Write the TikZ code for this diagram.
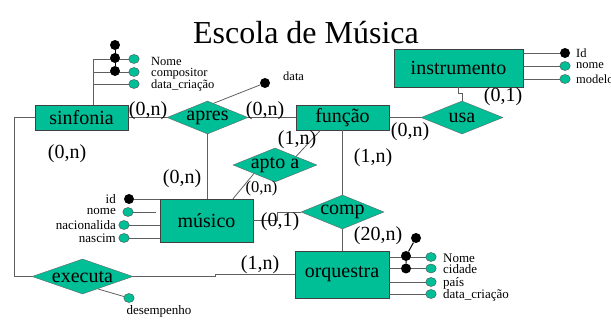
\documentclass[tikz,border=0pt]{standalone}
\usepackage{fontspec}
\setmainfont{Liberation Serif}
\usetikzlibrary{shapes.geometric,calc}

\definecolor{ergreen}{RGB}{0,190,150}
\definecolor{erline}{RGB}{95,95,95}

\tikzset{
  entity/.style={rectangle, draw=black!75, fill=ergreen, inner sep=0pt,
    font=\fontsize{20}{20}\selectfont},
  rel/.style={diamond, draw=black!60, fill=ergreen, inner sep=0pt,
    label={[font=\fontsize{20}{20}\selectfont]center:#1}},
  card/.style={inner sep=0pt, font=\fontsize{20}{20}\selectfont},
  smallcard/.style={inner sep=0pt, font=\fontsize{16.5}{16.5}\selectfont},
  attrname/.style={inner sep=0pt, font=\fontsize{12.5}{12.5}\selectfont},
  attrname2/.style={inner sep=0pt, font=\fontsize{13}{13}\selectfont},
  keydot/.style={circle, fill=black, inner sep=0pt, minimum size=10pt},
  attrdot/.style={ellipse, draw=black!70, fill=ergreen, inner sep=0pt,
    minimum width=10.5pt, minimum height=9pt},
  link/.style={draw=erline, line width=0.8pt}
}

\begin{document}
\begin{tikzpicture}[x=1pt, y=-1pt]
  \useasboundingbox (0,0) rectangle (611,328);

  % Title
  \node[anchor=base, inner sep=0pt, font=\fontsize{32}{32}\selectfont] (title) at (306,44) {Escola de Música};

  % Entities
  \node[entity, minimum width=93pt, minimum height=25pt] (sinfonia) at (81.5,117.5) {sinfonia};
  \node[entity, minimum width=93pt, minimum height=25pt] (funcao) at (342.5,117.5) {função};
  \node[entity, minimum width=129pt, minimum height=38pt] (instrumento) at (458.5,68) {instrumento};
  \node[entity, minimum width=93pt, minimum height=43pt] (musico) at (206.5,220.5) {músico};
  \node[entity, minimum width=94pt, minimum height=47pt] (orquestra) at (342,274.5) {orquestra};

  % Relationships
  \node[rel=apres, minimum width=81pt, minimum height=33pt] (apres) at (207.5,117.5) {};
  \node[rel=usa, minimum width=82pt, minimum height=33pt] (usa) at (462,117.5) {};
  \node[rel=apto a, minimum width=84pt, minimum height=34pt] (apto) at (275,165) {};
  \node[rel=comp, minimum width=83pt, minimum height=34pt] (comp) at (342.5,212) {};
  \node[rel=executa, minimum width=101pt, minimum height=35pt] (executa) at (82.5,276.5) {};

  % Connections
  \draw[link] (sinfonia) -- (apres);
  \draw[link] (apres) -- (funcao);
  \draw[link] (funcao) -- (usa);
  \draw[link] (instrumento.south) -- ++(0,6) -| (usa.north);
  \draw[link] (apres.south) -- (musico.north -| apres.south);
  \draw[link] ([xshift=-22pt]funcao.south) -- ($(apto.north)!0.5!(apto.east)$);
  \draw[link] ($(apto.south)!0.5!(apto.west)$) -- ([xshift=26.5pt]musico.north);
  \draw[link] (funcao.south) -- (comp.north);
  \draw[link] (comp.south) -- (orquestra.north -| comp.south);
  \draw[link] (musico.east) -- ++(24,0) |- (comp.west);
  \draw[link] (sinfonia.west) -- ++(-20,0) |- (executa.west);
  \draw[link] (executa.east) -- ++(82,0) |- (orquestra.west);

  % Cardinalities
  \node[card] (c1) at (148,111) {(0,n)};
  \node[card] (c2) at (265,111) {(0,n)};
  \node[card] (c3) at (67,154) {(0,n)};
  \node[card] (c4) at (182,179) {(0,n)};
  \node[card] (c5) at (297,140) {(1,n)};
  \node[smallcard] (c6) at (261.5,189) {(0,n)};
  \node[card] (c7) at (373,158) {(1,n)};
  \node[card] (c8) at (410,132) {(0,n)};
  \node[card] (c9) at (503,97) {(0,1)};
  \node[card] (c10) at (280,222) {(0,1)};
  \node[card] (c11) at (378,236) {(20,n)};
  \node[card] (c12) at (260,265) {(1,n)};

  % Attributes of sinfonia
  \coordinate (sstem) at ([xshift=11.5pt]sinfonia.north);
  \node[attrdot] (snome) at (134,59) {};
  \node[attrdot] (scomp) at (134,72) {};
  \node[attrdot] (sdata) at (134,84) {};
  \draw[link] (sstem) |- (snome);
  \draw[link] (sstem |- scomp) -- (scomp);
  \draw[link] (sstem |- sdata) -- (sdata);
  \node[keydot] (sk0) at (115,45) {};
  \node[keydot] (sk1) at (115,58) {};
  \node[keydot] (sk2) at (115,71) {};
  \draw[line width=1pt] (sk0) -- (sk2);
  \node[attrname, anchor=west] (lsnome) at (151,61) {Nome};
  \node[attrname, anchor=west] (lscomp) at (151,73.5) {compositor};
  \node[attrname, anchor=west] (lsdata) at (151,85.5) {data\_criação};

  % Attribute of apres
  \node[keydot] (adata) at (265,83) {};
  \draw[link] ($(apres.north)!0.15!(apres.east)$) -- (adata);
  \node[attrname, anchor=west] (ladata) at (283,76) {data};

  % Attributes of instrumento
  \node[keydot] (iid) at (565,53) {};
  \node[attrdot] (inome) at (565,66) {};
  \node[attrdot] (imodelo) at (565,79) {};
  \draw[link] (instrumento.east |- iid) -- (iid);
  \draw[link] (instrumento.east |- inome) -- (inome);
  \draw[link] (instrumento.east |- imodelo) -- (imodelo);
  \node[attrname, anchor=west] (liid) at (576,53) {Id};
  \node[attrname, anchor=west] (linome) at (576,66) {nome};
  \node[attrname, anchor=west] (limodelo) at (576,79) {modelo};

  % Attributes of musico
  \node[keydot] (mid) at (129,199) {};
  \node[attrdot] (mnome) at (128,212) {};
  \node[attrdot] (mnac) at (124,225) {};
  \node[attrdot] (mnasc) at (124,238) {};
  \draw[link] (mid) -- (musico.west |- mid);
  \draw[link] (mnome) -- ([xshift=-4pt]musico.west |- mnome);
  \draw[link] (mnac) -- (musico.west |- mnac);
  \draw[link] (mnasc) -- (musico.west |- mnasc);
  \node[attrname2, anchor=east] (lmid) at (116,199) {id};
  \node[attrname2, anchor=east] (lmnome) at (116,212) {nome};
  \node[attrname2, anchor=east] (lmnac) at (116,225) {nacionalida};
  \node[attrname2, anchor=east] (lmnasc) at (116,238) {nascim};

  % Attributes of orquestra
  \node[attrdot] (onome) at (431,257) {};
  \node[attrdot] (ocid) at (431,268.5) {};
  \node[attrdot] (opais) at (431,282) {};
  \node[attrdot] (odata) at (431,294) {};
  \draw[link] (orquestra.east |- onome) -- (onome);
  \draw[link] (orquestra.east |- ocid) -- (ocid);
  \draw[link] (orquestra.east |- opais) -- (opais);
  \draw[link] (orquestra.east |- odata) -- (odata);
  \node[keydot] (ok0) at (416,238) {};
  \node[keydot] (ok1) at (406,256) {};
  \node[keydot] (ok2) at (406,268.5) {};
  \draw[line width=1pt] (ok0) -- (ok1) -- (ok2);
  \node[attrname2, anchor=west] (lonome) at (443,258) {Nome};
  \node[attrname2, anchor=west] (locid) at (443,269.5) {cidade};
  \node[attrname2, anchor=west] (lopais) at (443,283) {país};
  \node[attrname2, anchor=west] (lodata) at (443,295) {data\_criação};

  % Attribute of executa
  \node[attrdot] (edes) at (129,298) {};
  \draw[link] ($(executa.south)!0.3!(executa.east)$) -- (edes);
  \node[attrname2] (ledes) at (159,311) {desempenho};

\end{tikzpicture}
\end{document}
